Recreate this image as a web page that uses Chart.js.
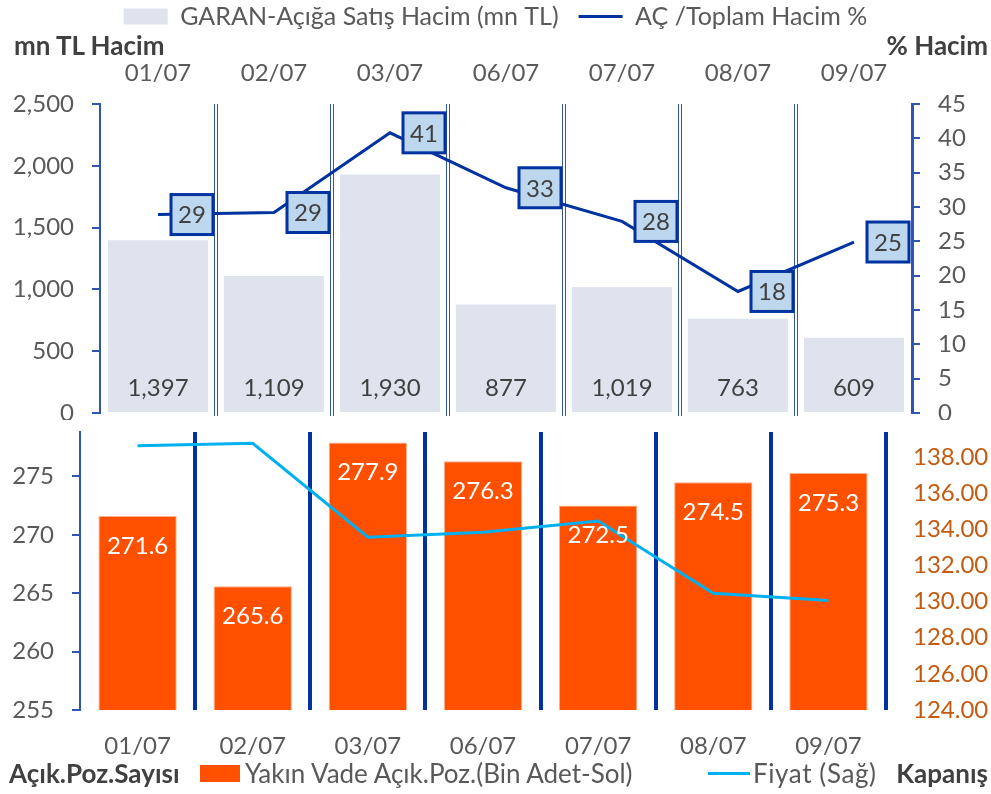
<!DOCTYPE html>
<html>
<head>
<meta charset="utf-8">
<script src="https://cdn.jsdelivr.net/npm/chart.js@4.4.1/dist/chart.umd.min.js"></script>
<style>
  html, body { margin: 0; padding: 0; background: #fff; }
  body { width: 991px; height: 794px; position: relative; overflow: hidden; font-family: Lato, 'Noto Sans', sans-serif; }
  #topWrap { position: absolute; left: 0; top: 0; width: 991px; height: 420px; }
  #botWrap { position: absolute; left: 0; top: 420px; width: 991px; height: 374px; }
  .lbl { position: absolute; font-weight: bold; color: #404040; font-size: 26px; line-height: 32px; white-space: nowrap; }
  .leg { position: absolute; color: #595959; font-size: 26px; line-height: 32px; white-space: nowrap; }
  .sw { position: absolute; }
</style>
</head>
<body>
<div id="topWrap"><canvas id="topChart" width="991" height="420"></canvas></div>
<div id="botWrap"><canvas id="botChart" width="991" height="374"></canvas></div>
<div class="lbl" style="left:14px; top:29px;">mn TL Hacim</div>
<div class="lbl" style="right:3px; top:29px;">% Hacim</div>
<div class="lbl" style="left:9px; top:757px;">Açık.Poz.Sayısı</div>
<div class="sw" style="left:200px; top:765px; width:40px; height:17px; background:#FF5000;"></div>
<div class="leg" style="left:245px; top:757px;">Yakın Vade Açık.Poz.(Bin Adet-Sol)</div>
<div class="sw" style="left:708px; top:772px; width:42px; height:3px; background:#00B0F0;"></div>
<div class="leg" style="left:753px; top:757px; letter-spacing:0.6px;">Fiyat (Sağ)</div>
<div class="lbl" style="right:3px; top:757px;">Kapanış</div>
<script>
// ---- data ----
const categories = ['01/07', '02/07', '03/07', '06/07', '07/07', '08/07', '09/07'];
const shortSaleVolume = [1397, 1109, 1930, 877, 1019, 763, 609];
const shortSaleRatio = [28.9, 29.2, 40.8, 32.8, 27.9, 17.7, 24.9];
const openPositions = [271.6, 265.6, 277.9, 276.3, 272.5, 274.5, 275.3];
const closingPrice = [138.61, 138.75, 133.55, 133.83, 134.45, 130.46, 130.06];
const volumeTicks = [0, 500, 1000, 1500, 2000, 2500];
const ratioTicks = [0, 5, 10, 15, 20, 25, 30, 35, 40, 45];
const positionTicks = [255, 260, 265, 270, 275];
const priceTicks = [124, 126, 128, 130, 132, 134, 136, 138];

const FONT = 'Lato, "Noto Sans", sans-serif';
const GRAY = '#595959';
const AXIS_BLUE = '#2F55B0';
const DARK_BLUE = '#0033A0';
const TOP_PAD = -16;

function keepTicks(list) {
  return function (axis) {
    axis.ticks = list.map(v => ({ value: v }));
  };
}
function fixWidth(w) {
  return function (scale) {
    scale.width = w;
    scale.paddingTop = 0;
    scale.paddingBottom = 0;
  };
}

// plugin: double separator lines in top chart
const doubleLines = {
  id: 'doubleLines',
  beforeDatasetsDraw(chart, args, opts) {
    if (!opts || !opts.enabled) return;
    const x = chart.scales.x, a = chart.chartArea, ctx = chart.ctx;
    ctx.save();
    ctx.strokeStyle = AXIS_BLUE;
    ctx.lineWidth = 1;
    for (let i = 1; i < categories.length; i++) {
      const px = Math.round((x.getPixelForTick(i - 1) + x.getPixelForTick(i)) / 2);
      [-1.5, 1.5].forEach(d => {
        ctx.beginPath();
        ctx.moveTo(px + d, a.top);
        ctx.lineTo(px + d, a.bottom + 3);
        ctx.stroke();
      });
    }
    ctx.restore();
  }
};

// plugin: data labels
const valueLabels = {
  id: 'valueLabels',
  afterDatasetsDraw(chart, args, opts) {
    if (!opts || !opts.items) return;
    const ctx = chart.ctx;
    opts.items.forEach(cfg => {
      const meta = chart.getDatasetMeta(cfg.dataset);
      const data = chart.data.datasets[cfg.dataset].data;
      meta.data.forEach((el, i) => {
        const txt = cfg.format(data[i]);
        ctx.save();
        ctx.font = cfg.font;
        ctx.textAlign = 'center';
        ctx.textBaseline = 'middle';
        let cx, cy;
        if (cfg.mode === 'base') { cx = el.x; cy = el.base - cfg.offset; }
        else if (cfg.mode === 'top') { cx = el.x; cy = el.y + cfg.offset; }
        else { cx = el.x + cfg.offset; cy = el.y; }
        if (cfg.box) {
          const w = cfg.box.w, h = cfg.box.h;
          ctx.fillStyle = cfg.box.fill;
          ctx.fillRect(cx - w / 2, cy - h / 2, w, h);
          ctx.lineWidth = cfg.box.lw;
          ctx.strokeStyle = cfg.box.stroke;
          ctx.strokeRect(cx - w / 2, cy - h / 2, w, h);
        }
        ctx.fillStyle = cfg.color;
        ctx.fillText(txt, cx, cy + 1);
        ctx.restore();
      });
    });
  }
};

Chart.register(doubleLines, valueLabels);

// ---------- TOP CHART ----------
new Chart(document.getElementById('topChart'), {
  type: 'bar',
  data: {
    labels: categories,
    datasets: [
      {
        type: 'bar',
        label: 'GARAN-Açığa Satış Hacim (mn TL)',
        data: shortSaleVolume,
        yAxisID: 'yL',
        backgroundColor: '#DEE3EE',
        categoryPercentage: 1,
        barPercentage: 0.862,
        pointStyle: 'rect',
        order: 2
      },
      {
        type: 'line',
        label: 'AÇ /Toplam Hacim %',
        data: shortSaleRatio,
        yAxisID: 'yR',
        borderColor: DARK_BLUE,
        backgroundColor: DARK_BLUE,
        borderWidth: 3,
        pointRadius: 0,
        tension: 0,
        pointStyle: 'line',
        order: 1
      }
    ]
  },
  options: {
    responsive: false,
    animation: false,
    layout: { padding: { top: TOP_PAD, bottom: 7, left: 0, right: 0 } },
    plugins: {
      legend: {
        display: true,
        position: 'top',
        labels: {
          usePointStyle: true,
          pointStyleWidth: 44,
          boxHeight: 16,
          color: GRAY,
          font: { family: FONT, size: 25 },
          padding: 20,
          sort: (a, b) => a.datasetIndex - b.datasetIndex
        }
      },
      tooltip: { enabled: false },
      doubleLines: { enabled: true },
      valueLabels: {
        items: [
          { dataset: 0, mode: 'base', offset: 25, color: '#404040', font: '24px ' + FONT,
            format: v => v.toLocaleString('en-US') },
          { dataset: 1, mode: 'right', offset: 34, color: '#404040', font: '24px ' + FONT,
            format: v => String(Math.round(v)),
            box: { w: 42, h: 40, fill: '#BDD7EE', stroke: DARK_BLUE, lw: 3 } }
        ]
      }
    },
    scales: {
      x: {
        position: 'top',
        offset: true,
        grid: { display: false, drawTicks: false },
        border: { display: false },
        ticks: { color: GRAY, font: { family: FONT, size: 24 }, padding: 16, maxRotation: 0 },
        afterFit(scale) {
          const lh = scale.chart.legend ? scale.chart.legend.height : 0;
          scale.height = 104 - TOP_PAD - lh;
        }
      },
      yL: {
        position: 'left',
        min: 0, max: 2500,
        afterBuildTicks: keepTicks(volumeTicks),
        afterFit: fixWidth(100),
        grid: { drawOnChartArea: false, drawTicks: true, tickLength: 8, color: AXIS_BLUE, lineWidth: 2 },
        border: { display: true, color: AXIS_BLUE, width: 2 },
        ticks: { color: GRAY, font: { family: FONT, size: 24 }, padding: 18,
          callback: v => v.toLocaleString('en-US') }
      },
      yR: {
        position: 'right',
        min: 0, max: 45,
        afterBuildTicks: keepTicks(ratioTicks),
        afterFit: fixWidth(79),
        grid: { drawOnChartArea: false, drawTicks: true, tickLength: 8, color: AXIS_BLUE, lineWidth: 2 },
        border: { display: true, color: AXIS_BLUE, width: 3 },
        ticks: { color: GRAY, font: { family: FONT, size: 24 }, padding: 18 }
      }
    }
  }
});

// ---------- BOTTOM CHART ----------
new Chart(document.getElementById('botChart'), {
  type: 'bar',
  data: {
    labels: categories,
    datasets: [
      {
        type: 'bar',
        label: 'Yakın Vade Açık.Poz.(Bin Adet-Sol)',
        data: openPositions,
        yAxisID: 'yL',
        backgroundColor: '#FF5000',
        borderColor: '#FFB088',
        borderWidth: 1,
        categoryPercentage: 1,
        barPercentage: 0.68,
        order: 2
      },
      {
        type: 'line',
        label: 'Fiyat (Sağ)',
        data: closingPrice,
        yAxisID: 'yR',
        borderColor: '#00B0F0',
        borderWidth: 3,
        pointRadius: 0,
        tension: 0,
        order: 1
      }
    ]
  },
  options: {
    responsive: false,
    animation: false,
    layout: { padding: { top: 12, bottom: 0, left: 0, right: 0 } },
    plugins: {
      legend: { display: false },
      tooltip: { enabled: false },
      valueLabels: {
        items: [
          { dataset: 0, mode: 'top', offset: 29, color: '#FFFFFF', font: '24px ' + FONT,
            format: v => v.toFixed(1) }
        ]
      }
    },
    scales: {
      x: {
        position: 'bottom',
        offset: true,
        grid: {
          offset: true,
          display: true,
          drawTicks: false,
          color: DARK_BLUE,
          lineWidth: ctx => (ctx.index === 0 ? 0 : 4)
        },
        border: { display: false },
        ticks: { color: GRAY, font: { family: FONT, size: 24 }, padding: 22, maxRotation: 0 },
        afterFit(scale) { scale.height = 84; }
      },
      yL: {
        position: 'left',
        min: 255, max: 278.8,
        afterBuildTicks: keepTicks(positionTicks),
        afterFit: fixWidth(80),
        grid: { drawOnChartArea: false, drawTicks: true, tickLength: 8, color: AXIS_BLUE, lineWidth: 2 },
        border: { display: true, color: AXIS_BLUE, width: 2 },
        ticks: { color: GRAY, font: { family: FONT, size: 24 }, padding: 18 }
      },
      yR: {
        position: 'right',
        min: 124, max: 139.37,
        afterBuildTicks: keepTicks(priceTicks),
        afterFit: fixWidth(105),
        grid: { drawOnChartArea: false, drawTicks: false },
        border: { display: false },
        ticks: { color: '#C55A11', font: { family: FONT, size: 24 }, padding: 27,
          callback: v => Number(v).toFixed(2) }
      }
    }
  }
});
</script>
</body>
</html>
